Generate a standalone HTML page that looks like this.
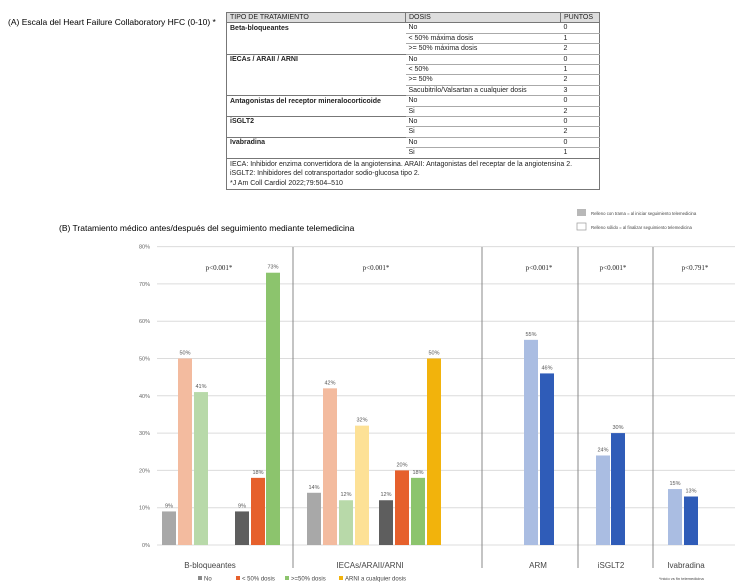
<!DOCTYPE html>
<html><head><meta charset="utf-8"><style>
body{margin:0;background:#fff;width:750px;height:586px;overflow:hidden;font-family:"Liberation Sans",sans-serif;}
table{position:absolute;left:226px;top:12px;width:374px;border-collapse:collapse;font-size:7px;color:#222;}
td{padding:0 3px;height:9.4px;line-height:9.4px;border-top:1px solid #aaa;white-space:nowrap}
td.b{font-weight:bold;border-top:1px solid #777}
tr.h td{background:#ddd;border:1px solid #777}
</style></head><body>
<div style="position:absolute;left:8px;top:17px;font-size:8.5px;">(A) Escala del Heart Failure Collaboratory HFC (0-10) *</div>
<table style="border:1px solid #777">
<tr class="h"><td style="width:172px">TIPO DE TRATAMIENTO</td><td style="width:148px">DOSIS</td><td>PUNTOS</td></tr>
<tr><td class="b">Beta-bloqueantes</td><td>No</td><td>0</td></tr>
<tr><td style="border:0"></td><td>&lt; 50% máxima dosis</td><td>1</td></tr>
<tr><td style="border:0"></td><td>&gt;= 50% máxima dosis</td><td>2</td></tr>
<tr><td class="b">IECAs / ARAII / ARNI</td><td>No</td><td>0</td></tr>
<tr><td style="border:0"></td><td>&lt; 50%</td><td>1</td></tr>
<tr><td style="border:0"></td><td>&gt;= 50%</td><td>2</td></tr>
<tr><td style="border:0"></td><td>Sacubitrilo/Valsartan a cualquier dosis</td><td>3</td></tr>
<tr><td class="b">Antagonistas del receptor mineralocorticoide</td><td>No</td><td>0</td></tr>
<tr><td style="border:0"></td><td>Si</td><td>2</td></tr>
<tr><td class="b">iSGLT2</td><td>No</td><td>0</td></tr>
<tr><td style="border:0"></td><td>Si</td><td>2</td></tr>
<tr><td class="b">Ivabradina</td><td>No</td><td>0</td></tr>
<tr><td style="border:0"></td><td>Si</td><td>1</td></tr>
<tr><td colspan="3" style="border-top:1px solid #777;line-height:9.5px;height:auto;white-space:normal;padding-top:1px;padding-bottom:1px">IECA: Inhibidor enzima convertidora de la angiotensina. ARAII: Antagonistas del receptar de la angiotensina 2. iSGLT2: Inhibidores del cotransportador sodio-glucosa tipo 2.<br>*J Am Coll Cardiol 2022;79:504–510</td></tr>
</table>
<div style="position:absolute;left:59px;top:223px;font-size:8.5px;">(B) Tratamiento médico antes/después del seguimiento mediante telemedicina</div>
<svg id="c" width="750" height="586" style="position:absolute;left:0;top:0" font-family="Liberation Sans, sans-serif"></svg>
<script>
const yTicks=[0,10,20,30,40,50,60,70,80];
const barValues=[9,50,41,9,18,73,14,42,12,32,12,20,18,50,55,46,24,30,15,13];
const barLabels=["9%","50%","41%","9%","18%","73%","14%","42%","12%","32%","12%","20%","18%","50%","55%","46%","24%","30%","15%","13%"];
const barX=[162,178,194,235,251,266,307,323,339,355,379,395,411,427,524,540,596,611,668,684];
const barColors=["#a8a8a8","#f3bb9f","#b8d9a9","#5e5e5e","#e6602c","#8cc46d","#a8a8a8","#f3bb9f","#b8d9a9","#fde196","#5e5e5e","#e6602c","#8cc46d","#f2b30c","#aabde2","#2f5cb8","#aabde2","#2f5cb8","#aabde2","#2f5cb8"];
const categories=["B-bloqueantes","IECAs/ARAII/ARNI","ARM","iSGLT2","Ivabradina"];
const catX=[210,370,538,611,686];
const pValues=["p<0.001*","p<0.001*","p<0.001*","p<0.001*","p<0.791*"];
const pX=[219,376,539,613,695];
const legendNames=["No","< 50% dosis",">=50% dosis","ARNI a cualquier dosis"];
const legendColors=["#8a8a8a","#e6602c","#8cc46d","#f2b30c"];
const legendX=[198,236,285,339];
const svg=document.getElementById('c');const NS="http://www.w3.org/2000/svg";
const y=v=>545-v*37.3/10;
function mk(t,a,txt){const e=document.createElementNS(NS,t);for(const k in a)e.setAttribute(k,a[k]);if(txt!==undefined)e.textContent=txt;svg.appendChild(e);return e;}
yTicks.forEach(t=>{
 const l=mk('line',{x1:157,x2:735,y1:y(t),y2:y(t),stroke:'#dcdcdc','stroke-width':1});
 
 
 const tx=mk('text',{x:150,y:y(t)+2,'font-size':5.5,fill:'#666','text-anchor':'end'},t+'%');
 
 
});
[293,482,578,653].forEach(x=>{const l=mk('line',{x1:x,x2:x,y1:247,y2:568,stroke:'#888','stroke-width':1});
 
 });
barValues.forEach((v,i)=>{
 const r=mk('rect',{x:barX[i],y:y(v),width:14,height:y(0)-y(v),fill:barColors[i]});
 
 
 const t=mk('text',{x:barX[i]+7,y:y(v)-4,'font-size':5.5,fill:'#555','text-anchor':'middle'},barLabels[i]);
 
 
});
categories.forEach((c,i)=>{const t=mk('text',{x:catX[i],y:568,'font-size':8,fill:'#444','text-anchor':'middle'},c);
 
 });
pValues.forEach((p,i)=>{const t=mk('text',{x:pX[i],y:270,'font-size':7,fill:'#222','text-anchor':'middle','font-family':'Liberation Serif, serif'},p);
 
 });
legendNames.forEach((n,i)=>{
 const r=mk('rect',{x:legendX[i],y:576,width:4,height:4,fill:legendColors[i]});
 
 
 const t=mk('text',{x:legendX[i]+6,y:580.5,'font-size':6,fill:'#444'},n);
 
 
});
let r1=mk('rect',{x:577,y:209,width:9,height:7,fill:'#b8b8b8'});


let t1=mk('text',{x:591,y:215,'font-size':4.3,fill:'#444'},'Relleno con trama = al iniciar seguimiento telemedicina');


let r2=mk('rect',{x:577,y:223,width:9,height:7,fill:'#fff',stroke:'#999','stroke-width':0.7});


let t2=mk('text',{x:591,y:229,'font-size':4.3,fill:'#444'},'Relleno sólido = al finalizar seguimiento telemedicina');


let t3=mk('text',{x:659,y:580,'font-size':4,fill:'#444'},'*inicio vs fin telemedicina');


</script>
</body></html>
